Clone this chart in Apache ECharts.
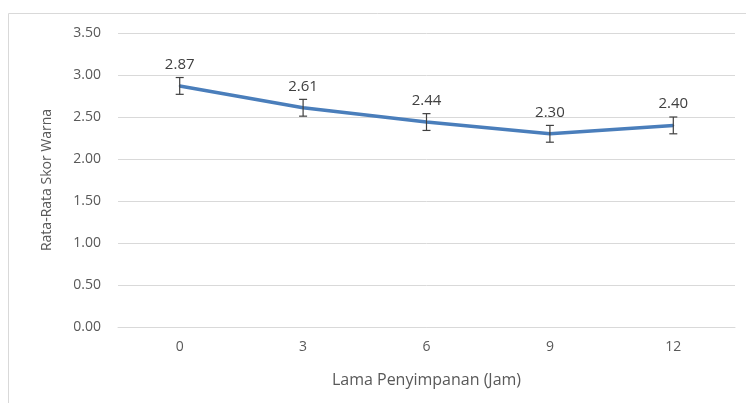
<!DOCTYPE html>
<html><head><meta charset="utf-8">
<script src="https://cdn.jsdelivr.net/npm/echarts@6/dist/echarts.min.js"></script>
<style>html,body{margin:0;padding:0;background:#fff}#c{width:746px;height:403px}</style>
</head><body><div id="c"></div>
<script>
const categories = ['0','3','6','9','12'];
const values = [2.87, 2.61, 2.44, 2.30, 2.40];
const errors = [0.10, 0.10, 0.10, 0.10, 0.10];
const yTicks = [0, 0.5, 1, 1.5, 2, 2.5, 3, 3.5];

const chart = echarts.init(document.getElementById('c'));
const font = '"Open Sans", sans-serif';
chart.setOption({
  animation: false,
  graphic: [{type:'rect', shape:{x:8.5,y:13.5,width:760,height:420}, style:{fill:'none', stroke:'#d9d9d9', lineWidth:1}}],
  grid: {left:118, right:11, top:33, bottom:76},
  xAxis: {
    type:'category', data: categories,
    name:'Lama Penyimpanan (Jam)', nameLocation:'middle', nameGap:45,
    nameTextStyle:{color:'#595959', fontSize:16, fontFamily:font},
    axisLine:{lineStyle:{color:'#d9d9d9'}}, axisTick:{show:false},
    axisLabel:{color:'#595959', fontSize:14, fontFamily:font, margin:13}
  },
  yAxis: {
    type:'value', min:0, max:3.5, interval:0.5,
    name:'Rata-Rata Skor Warna', nameLocation:'middle', nameGap:64,
    nameTextStyle:{color:'#595959', fontSize:14, fontFamily:font},
    axisLine:{show:false}, axisTick:{show:false},
    splitLine:{lineStyle:{color:'#d9d9d9'}},
    axisLabel:{color:'#595959', fontSize:14, fontFamily:font, margin:17,
      formatter: v => v.toFixed(2)}
  },
  series: [
    {type:'line', data: values, symbol:'circle', symbolSize:2, showSymbol:true,
     itemStyle:{color:'#4a7ebb'},
     lineStyle:{color:'#4a7ebb', width:3.5},
     label:{show:true, position:'top', distance:13, color:'#404040', fontSize:15, fontFamily:font,
       formatter: p => p.value.toFixed(2)}, z:3},
    {type:'custom', z:4,
     data: values.map((v,i)=>[i, v-errors[i], v+errors[i]]),
     renderItem: (params, api) => {
       const lo = api.coord([api.value(0), api.value(1)]);
       const hi = api.coord([api.value(0), api.value(2)]);
       const w = 4;
       const st = {stroke:'#404040', lineWidth:1.2};
       return {type:'group', children:[
         {type:'line', shape:{x1:lo[0],y1:lo[1],x2:hi[0],y2:hi[1]}, style:st},
         {type:'line', shape:{x1:lo[0]-w,y1:lo[1],x2:lo[0]+w,y2:lo[1]}, style:st},
         {type:'line', shape:{x1:hi[0]-w,y1:hi[1],x2:hi[0]+w,y2:hi[1]}, style:st}
       ]};
     }}
  ]
});
</script></body></html>
